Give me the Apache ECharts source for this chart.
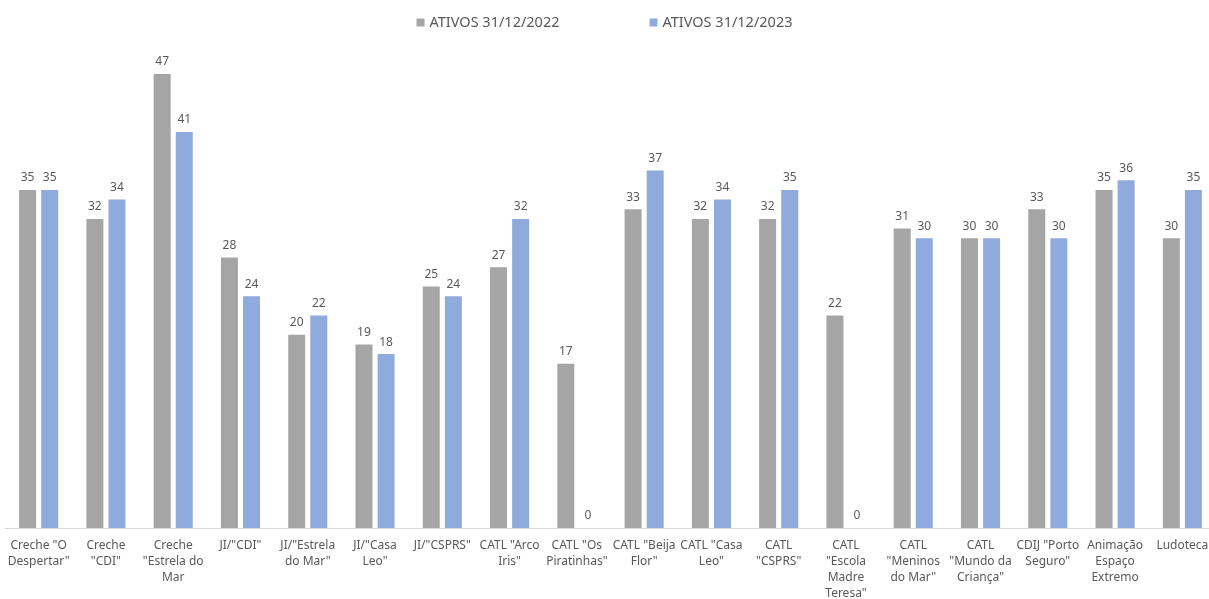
<!DOCTYPE html>
<html>
<head>
<meta charset="utf-8">
<script src="https://cdn.jsdelivr.net/npm/echarts@6/dist/echarts.min.js"></script>
<style>
  html, body { margin: 0; padding: 0; background: #fff; }
  #chartDom { width: 1209px; height: 599px; }
</style>
</head>
<body>
<div id="chartDom"></div>
<script>
var categories = [
  'Creche "O\nDespertar"', 'Creche\n"CDI"', 'Creche\n"Estrela do\nMar', 'JI/"CDI"',
  'JI/"Estrela\ndo Mar"', 'JI/"Casa\nLeo"', 'JI/"CSPRS"', 'CATL "Arco\nIris"',
  'CATL "Os\nPiratinhas"', 'CATL "Beija\nFlor"', 'CATL "Casa\nLeo"', 'CATL\n"CSPRS"',
  'CATL\n"Escola\nMadre\nTeresa"', 'CATL\n"Meninos\ndo Mar"', 'CATL\n"Mundo da\nCriança"',
  'CDIJ "Porto\nSeguro"', 'Animação\nEspaço\nExtremo', 'Ludoteca'
];
var ativos2022 = [35, 32, 47, 28, 20, 19, 25, 27, 17, 33, 32, 32, 22, 31, 30, 33, 35, 30];
var ativos2023 = [35, 34, 41, 24, 22, 18, 24, 32, 0, 37, 34, 35, 0, 30, 30, 30, 36, 35];

var myChart = echarts.init(document.getElementById('chartDom'));
var fontFam = '"Noto Sans", "DejaVu Sans", sans-serif';
var option = {
  animation: false,
  textStyle: { fontFamily: fontFam },
  legend: {
    top: 10,
    left: 'center',
    itemWidth: 8,
    itemHeight: 8,
    itemGap: 90,
    icon: 'rect',
    textStyle: { fontSize: 14.5, color: '#595959', fontFamily: fontFam },
    data: ['ATIVOS 31/12/2022', 'ATIVOS 31/12/2023']
  },
  grid: { left: 5, width: 1211, top: 45, bottom: 71, outerBoundsMode: 'none', containLabel: false },
  xAxis: {
    type: 'category',
    data: categories,
    axisLine: { lineStyle: { color: '#d9d9d9' } },
    axisTick: { show: false },
    axisLabel: {
      interval: 0,
      color: '#595959',
      fontSize: 12,
      lineHeight: 16,
      margin: 10,
      fontFamily: fontFam
    }
  },
  yAxis: {
    type: 'value',
    min: 0,
    max: 50,
    show: false,
    splitLine: { show: false }
  },
  series: [
    {
      name: 'ATIVOS 31/12/2022',
      type: 'bar',
      data: ativos2022,
      barWidth: 17,
      barGap: '30%',
      itemStyle: { color: '#a5a5a5' },
      label: { show: true, position: 'top', distance: 6, color: '#595959', fontSize: 12, fontFamily: fontFam }
    },
    {
      name: 'ATIVOS 31/12/2023',
      type: 'bar',
      data: ativos2023,
      barWidth: 17,
      barGap: '30%',
      itemStyle: { color: '#8faadc' },
      label: { show: true, position: 'top', distance: 6, color: '#595959', fontSize: 12, fontFamily: fontFam }
    }
  ]
};
myChart.setOption(option);
</script>
</body>
</html>
